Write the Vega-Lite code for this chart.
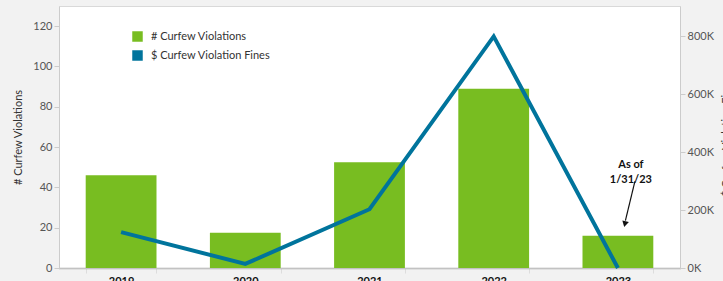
{
  "$schema": "https://vega.github.io/schema/vega-lite/v6.json",
  "width": 621,
  "height": 262,
  "autosize": "none",
  "padding": {"left": 59, "top": 6, "right": 43, "bottom": 13},
  "background": "#f2f2f2",
  "config": {
    "font": "Lato",
    "view": {"fill": "#ffffff", "stroke": "#d9d9d9", "strokeWidth": 1}
  },
  "data": {
    "values": [
      {"year": "2019", "violations": 46, "fines": 124000},
      {"year": "2020", "violations": 17.5, "fines": 14000},
      {"year": "2021", "violations": 52.5, "fines": 203000},
      {"year": "2022", "violations": 89, "fines": 800000},
      {"year": "2023", "violations": 16, "fines": 0}
    ]
  },
  "encoding": {
    "x": {
      "field": "year",
      "type": "nominal",
      "scale": {"type": "band", "paddingInner": 0.43, "paddingOuter": 0.215},
      "axis": {
        "title": null,
        "labelAngle": 0,
        "labelFontWeight": "bold",
        "labelFontSize": 11,
        "labelColor": "#111111",
        "labelPadding": 2,
        "tickBand": "extent",
        "tickSize": 5,
        "tickColor": "#dddddd",
        "domainColor": "#aaaaaa",
        "domainDash": [1, 1],
        "domainWidth": 2
      }
    }
  },
  "layer": [
    {
      "layer": [
        {
          "mark": {"type": "bar"},
          "encoding": {
            "y": {
              "field": "violations",
              "type": "quantitative",
              "scale": {"domain": [0, 130], "nice": false},
              "axis": {
                "title": "# Curfew Violations",
                "titleFontSize": 11,
                "titleFontWeight": "normal",
                "titleColor": "#333333",
                "titlePadding": 9,
                "values": [0, 20, 40, 60, 80, 100, 120],
                "grid": false,
                "labelFontSize": 11,
                "labelColor": "#555555",
                "labelPadding": 2,
                "tickSize": 5,
                "tickColor": "#cccccc",
                "domainColor": "#cccccc"
              }
            },
            "color": {
              "datum": "# Curfew Violations",
              "type": "nominal",
              "scale": {
                "domain": ["# Curfew Violations", "$ Curfew Violation Fines"],
                "range": ["#78bd21", "#00749c"]
              },
              "legend": {
                "title": null,
                "orient": "none",
                "legendX": 73,
                "legendY": 25,
                "symbolType": "square",
                "symbolSize": 110,
                "symbolStrokeWidth": 0,
                "labelFontSize": 11,
                "labelColor": "#333333",
                "labelOffset": 8,
                "rowPadding": 7
              }
            }
          }
        },
        {
          "data": {"values": [{"year": "2023", "v": 51.3, "label": "As of\n1/31/23"}]},
          "mark": {"type": "text", "fontWeight": "bold", "fontSize": 11, "color": "#111111", "lineBreak": "\n", "lineHeight": 15, "dx": 13, "baseline": "middle", "align": "center"},
          "encoding": {
            "y": {"field": "v", "type": "quantitative"},
            "text": {"field": "label"}
          }
        },
        {
          "data": {"values": [{"year": "2023", "v1": 43, "v2": 23.5}]},
          "mark": {"type": "rule", "color": "#111111", "strokeWidth": 1.2, "xOffset": 17, "x2Offset": 7.5},
          "encoding": {
            "x2": {"field": "year", "bandPosition": 0.5},
            "y": {"field": "v1", "type": "quantitative"},
            "y2": {"field": "v2"}
          }
        },
        {
          "data": {"values": [{"year": "2023", "v": 21.8}]},
          "mark": {"type": "point", "shape": "triangle-down", "filled": true, "color": "#111111", "size": 45, "angle": 14, "xOffset": 7, "opacity": 1},
          "encoding": {
            "y": {"field": "v", "type": "quantitative"}
          }
        }
      ]
    },
    {
      "mark": {"type": "line", "color": "#00749c", "strokeWidth": 4},
      "encoding": {
        "y": {
          "field": "fines",
          "type": "quantitative",
          "scale": {"domain": [0, 905000], "nice": false},
          "axis": {
            "orient": "right",
            "title": "$ Curfew Violation Fines",
            "titleFontSize": 11,
            "titleFontWeight": "normal",
            "titleColor": "#333333",
            "titleAngle": 270,
            "titlePadding": 18,
            "values": [0, 200000, 400000, 600000, 800000],
            "labelExpr": "datum.value / 1000 + 'K'",
            "grid": false,
            "labelFontSize": 11,
            "labelColor": "#555555",
            "labelPadding": 2,
            "tickSize": 5,
            "tickColor": "#cccccc",
            "domainColor": "#cccccc"
          }
        }
      }
    }
  ],
  "resolve": {"scale": {"y": "independent"}}
}
